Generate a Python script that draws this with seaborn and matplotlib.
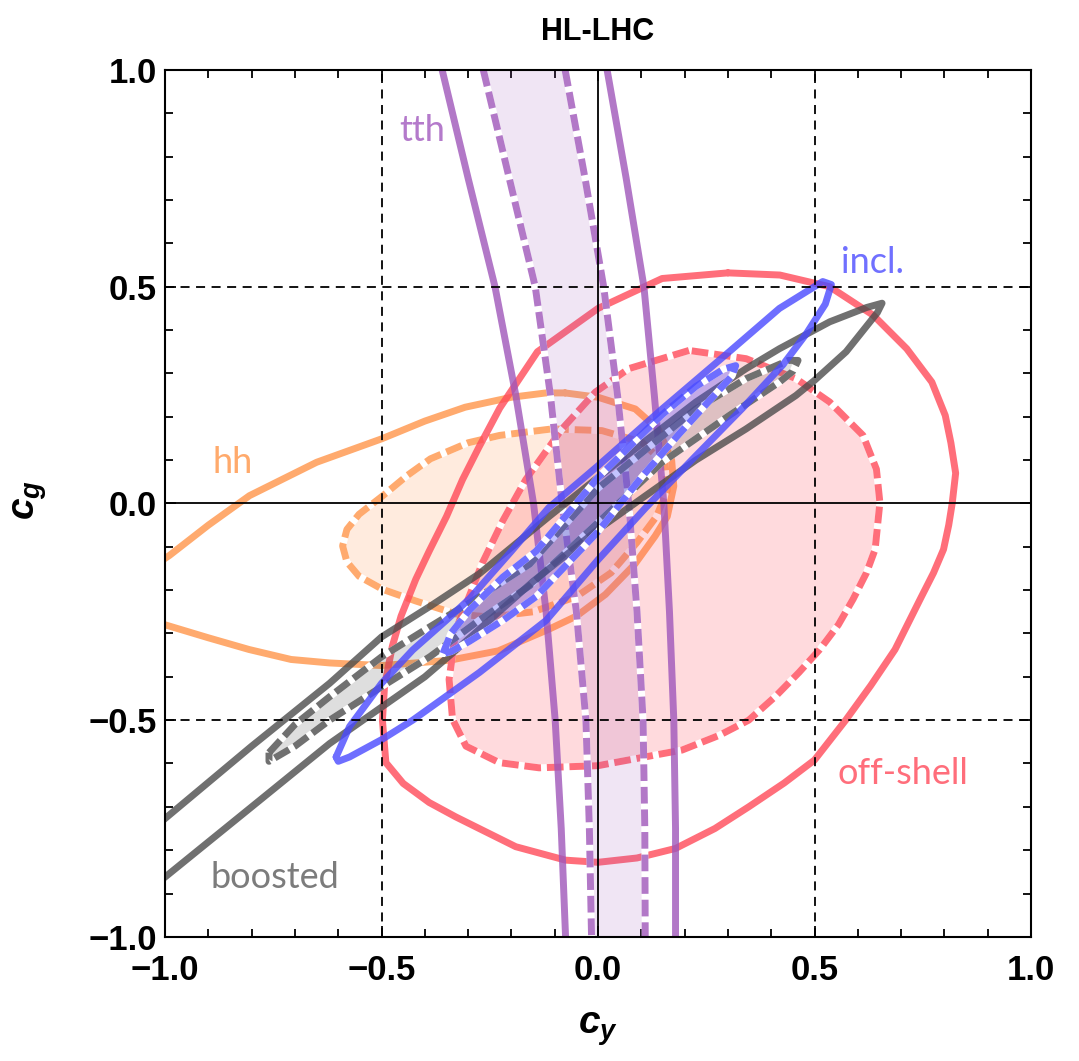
import numpy as np
import pandas as pd
import matplotlib
matplotlib.use("Agg")
import matplotlib.pyplot as plt
from matplotlib.ticker import MultipleLocator
import seaborn as sns

# ---------------- data (c_y, c_g) ----------------
TITLE = "HL-LHC"
X_LABEL = r"$c_y$"
Y_LABEL = r"$c_g$"
MAJOR_TICKS = [-1.0, -0.5, 0.0, 0.5, 1.0]
TICK_LABELS = ["\u22121.0", "\u22120.5", "0.0", "0.5", "1.0"]

# off-shell (red)
OFFSHELL_SOLID = [
    (0.30, 0.532), (0.148, 0.519), (0.0, 0.45), (-0.14, 0.35), (-0.227, 0.22),
    (-0.275, 0.13), (-0.313, 0.055), (-0.35, -0.03), (-0.39, -0.11), (-0.421, -0.175),
    (-0.455, -0.26), (-0.475, -0.329), (-0.493, -0.42), (-0.498, -0.5), (-0.49, -0.598),
    (-0.45, -0.646), (-0.39, -0.69), (-0.329, -0.723), (-0.19, -0.792), (-0.075, -0.823),
    (0.0, -0.828), (0.09, -0.818), (0.179, -0.796), (0.27, -0.75), (0.348, -0.70),
    (0.43, -0.645), (0.5, -0.592), (0.572, -0.5), (0.63, -0.42), (0.686, -0.337),
    (0.744, -0.221), (0.775, -0.16), (0.798, -0.106), (0.81, -0.05), (0.818, 0.0),
    (0.826, 0.07), (0.815, 0.14), (0.802, 0.203), (0.771, 0.28), (0.713, 0.357),
    (0.636, 0.434), (0.535, 0.5), (0.42, 0.527),
]
OFFSHELL_DASHED = [
    (0.21, 0.353), (0.071, 0.311), (-0.006, 0.257), (-0.083, 0.172), (-0.167, 0.055),
    (-0.22, -0.04), (-0.267, -0.137), (-0.328, -0.291), (-0.344, -0.406), (-0.336, -0.498),
    (-0.305, -0.56), (-0.228, -0.598), (-0.136, -0.61), (0.0, -0.605), (0.194, -0.569),
    (0.28, -0.535), (0.348, -0.5), (0.41, -0.445), (0.464, -0.39), (0.512, -0.337),
    (0.555, -0.28), (0.589, -0.221), (0.62, -0.16), (0.64, -0.106), (0.651, 0.002),
    (0.643, 0.079), (0.612, 0.157), (0.535, 0.234), (0.457, 0.288), (0.342, 0.334),
]

# hh (orange)
HH_SOLID = [
    (-0.076, 0.255), (0.0, 0.245), (0.086, 0.218), (0.14, 0.17), (0.17, 0.10),
    (0.175, 0.04), (0.16, -0.03), (0.132, -0.075), (0.085, -0.14), (0.017, -0.21),
    (-0.05, -0.26), (-0.113, -0.29), (-0.23, -0.34), (-0.344, -0.362), (-0.5, -0.374),
    (-0.62, -0.368), (-0.709, -0.36), (-0.806, -0.337), (-0.9, -0.31), (-1.0, -0.28),
    (-1.06, -0.255), (-1.08, -0.21), (-1.05, -0.16), (-0.99, -0.12), (-0.9, -0.05),
    (-0.805, 0.018), (-0.65, 0.095), (-0.5, 0.149), (-0.4, 0.19), (-0.307, 0.222),
    (-0.2, 0.245), (-0.12, 0.255),
]
HH_DASHED = [
    (-0.106, 0.172), (0.009, 0.168), (0.102, 0.141), (0.155, 0.09), (0.16, 0.03),
    (0.135, -0.03), (0.09, -0.09), (0.03, -0.16), (-0.05, -0.215), (-0.15, -0.25),
    (-0.25, -0.262), (-0.328, -0.255), (-0.421, -0.225), (-0.498, -0.198), (-0.552, -0.168),
    (-0.58, -0.135), (-0.59, -0.098), (-0.58, -0.06), (-0.552, -0.025), (-0.498, 0.017),
    (-0.44, 0.065), (-0.387, 0.103), (-0.3, 0.14), (-0.227, 0.157),
]

# boosted (gray)
BOOSTED_SOLID = [
    (-1.05, -0.77), (-1.0, -0.727), (-0.8, -0.56), (-0.62, -0.415), (-0.5, -0.308),
    (-0.389, -0.238), (-0.274, -0.162), (-0.113, -0.03), (0.0, 0.06), (0.226, 0.234),
    (0.342, 0.311), (0.419, 0.357), (0.535, 0.419), (0.62, 0.452), (0.656, 0.462),
    (0.645, 0.44), (0.573, 0.35), (0.5, 0.284), (0.457, 0.249), (0.342, 0.172),
    (0.226, 0.1), (0.11, 0.018), (0.0, -0.06), (-0.15, -0.18), (-0.33, -0.34),
    (-0.4, -0.40), (-0.5, -0.47), (-0.62, -0.554), (-0.8, -0.70), (-1.0, -0.862),
    (-1.05, -0.9),
]
BOOSTED_DASHED = [
    (-0.76, -0.575), (-0.7, -0.51), (-0.62, -0.446), (-0.5, -0.354), (-0.389, -0.285),
    (-0.274, -0.215), (-0.158, -0.14), (0.0, 0.035), (0.226, 0.218), (0.342, 0.288),
    (0.44, 0.33), (0.462, 0.33), (0.45, 0.305), (0.419, 0.28), (0.303, 0.203),
    (0.148, 0.095), (0.0, -0.044), (-0.158, -0.19), (-0.274, -0.269), (-0.389, -0.354),
    (-0.5, -0.423), (-0.62, -0.5), (-0.7, -0.56), (-0.76, -0.595),
]

# incl. (blue)
INCL_SOLID = [
    (-0.605, -0.585), (-0.574, -0.515), (-0.5, -0.415), (-0.428, -0.338), (-0.351, -0.27),
    (-0.297, -0.22), (-0.2, -0.11), (-0.114, -0.01), (0.0, 0.087), (0.148, 0.218),
    (0.303, 0.35), (0.419, 0.45), (0.519, 0.512), (0.539, 0.505), (0.525, 0.46),
    (0.48, 0.39), (0.427, 0.32), (0.334, 0.22), (0.226, 0.11), (0.11, -0.01),
    (0.0, -0.13), (-0.12, -0.27), (-0.197, -0.33), (-0.274, -0.39), (-0.351, -0.445),
    (-0.428, -0.5), (-0.5, -0.545), (-0.574, -0.585), (-0.6, -0.595),
]
INCL_DASHED = [
    (-0.358, -0.346), (-0.34, -0.30), (-0.297, -0.246), (-0.22, -0.17), (-0.143, -0.11),
    (0.0, 0.06), (0.148, 0.205), (0.226, 0.27), (0.29, 0.31), (0.318, 0.318),
    (0.31, 0.295), (0.26, 0.24), (0.187, 0.16), (0.10, 0.06), (0.0, -0.065),
    (-0.143, -0.215), (-0.22, -0.27), (-0.297, -0.318), (-0.34, -0.342),
]

# tth (purple): open bands, c_y read at fixed c_g levels
TTH_CG = [1.0, 0.75, 0.5, 0.25, 0.0, -0.25, -0.5, -0.75, -1.0]
TTH_SOLID_LEFT = [-0.36, -0.30, -0.238, -0.19, -0.149, -0.12, -0.099, -0.085, -0.075]
TTH_DASHED_LEFT = [-0.265, -0.205, -0.145, -0.11, -0.083, -0.05, -0.028, -0.02, -0.015]
TTH_DASHED_RIGHT = [-0.076, -0.03, 0.013, 0.045, 0.071, 0.09, 0.104, 0.108, 0.109]
TTH_SOLID_RIGHT = [0.021, 0.065, 0.106, 0.13, 0.152, 0.165, 0.175, 0.179, 0.179]

# region labels
LABELS = ["tth", "incl.", "hh", "boosted", "off-shell"]
LABEL_X = [-0.406, 0.633, -0.843, -0.746, 0.704]
LABEL_Y = [0.861, 0.556, 0.095, -0.862, -0.623]

# ---------------- styling ----------------
RED = "#FF4A59"
PURPLE = "#9F56BA"
ORANGE = "#FF954A"
BLUE = "#4A4AFF"
GRAY = "#4C4C4C"
LABEL_COLORS = ["#B47ACB", "#7070FF", "#FFAA6C", "#7C7C7C", "#FF6E7B"]

sns.set_theme(style="ticks")
plt.rcParams["font.family"] = ["Liberation Sans", "DejaVu Sans"]
plt.rcParams["mathtext.fontset"] = "custom"
plt.rcParams["mathtext.it"] = "Liberation Sans:italic:bold"
plt.rcParams["mathtext.rm"] = "Liberation Sans:bold"
for key in ("text.color", "axes.labelcolor", "xtick.color", "ytick.color",
            "axes.edgecolor"):
    plt.rcParams[key] = "black"

fig = plt.figure(figsize=(10.79, 10.61), dpi=100)
ax = fig.add_axes([0.153, 0.117, 0.8025, 0.817])

LW = 5.0
DASH = (0, (2.4, 0.85))
LINE_ALPHA = 0.8


def closed_frame(points):
    pts = list(points) + [points[0]]
    return pd.DataFrame(pts, columns=["cy", "cg"])


def draw_contour(points, color, dashed, z, fill_alpha=None):
    df = closed_frame(points)
    if fill_alpha is not None:
        ax.fill(df["cy"], df["cg"], color=color, alpha=fill_alpha, lw=0, zorder=z)
    if dashed:
        sns.lineplot(data=df, x="cy", y="cg", sort=False, estimator=None, ax=ax,
                     color="white", lw=LW, zorder=z + 0.5)
        sns.lineplot(data=df, x="cy", y="cg", sort=False, estimator=None, ax=ax,
                     color=color, lw=LW, alpha=LINE_ALPHA, linestyle=DASH,
                     zorder=z + 0.6)
    else:
        sns.lineplot(data=df, x="cy", y="cg", sort=False, estimator=None, ax=ax,
                     color=color, lw=LW, alpha=LINE_ALPHA, zorder=z + 0.7)


# hh
draw_contour(HH_DASHED, ORANGE, True, 1.0, fill_alpha=0.18)
draw_contour(HH_SOLID, ORANGE, False, 1.0)
# off-shell
draw_contour(OFFSHELL_DASHED, RED, True, 2.0, fill_alpha=0.2)
draw_contour(OFFSHELL_SOLID, RED, False, 2.0)
# tth
ax.fill_betweenx(TTH_CG, TTH_DASHED_LEFT, TTH_DASHED_RIGHT, color=PURPLE, alpha=0.15,
                 lw=0, zorder=3.0)
for xs in (TTH_DASHED_LEFT, TTH_DASHED_RIGHT):
    sns.lineplot(x=xs, y=TTH_CG, sort=False, estimator=None, ax=ax, color="white",
                 lw=LW, zorder=3.5)
    sns.lineplot(x=xs, y=TTH_CG, sort=False, estimator=None, ax=ax, color=PURPLE,
                 lw=LW, alpha=LINE_ALPHA, linestyle=DASH, zorder=3.6)
for xs in (TTH_SOLID_LEFT, TTH_SOLID_RIGHT):
    sns.lineplot(x=xs, y=TTH_CG, sort=False, estimator=None, ax=ax, color=PURPLE,
                 lw=LW, alpha=LINE_ALPHA, zorder=3.7)
# boosted
draw_contour(BOOSTED_DASHED, GRAY, True, 4.0, fill_alpha=0.18)
draw_contour(BOOSTED_SOLID, GRAY, False, 4.0)
# incl.
draw_contour(INCL_DASHED, BLUE, True, 5.0, fill_alpha=0.33)
draw_contour(INCL_SOLID, BLUE, False, 5.0)

# reference lines
for v in (-0.5, 0.5):
    ax.axhline(v, color="black", lw=1.3, linestyle=(0, (5, 3.6)), zorder=8)
    ax.axvline(v, color="black", lw=1.3, linestyle=(0, (5, 3.6)), zorder=8)
ax.axhline(0.0, color="black", lw=1.3, zorder=8)
ax.axvline(0.0, color="black", lw=1.3, zorder=8)

# labels on regions
for t, x, y, c in zip(LABELS, LABEL_X, LABEL_Y, LABEL_COLORS):
    ax.text(x, y, t, color=c, fontsize=26, ha="center", va="center",
            family=["Lato", "DejaVu Sans"], zorder=9)

ax.set_xlim(-1, 1)
ax.set_ylim(-1, 1)
ax.set_xticks(MAJOR_TICKS)
ax.set_yticks(MAJOR_TICKS)
ax.set_xticklabels(TICK_LABELS)
ax.set_yticklabels(TICK_LABELS)
ax.xaxis.set_minor_locator(MultipleLocator(0.1))
ax.yaxis.set_minor_locator(MultipleLocator(0.1))
ax.tick_params(which="both", direction="in", top=True, right=True, width=1.3,
               color="black", labelcolor="black")
ax.tick_params(which="major", length=8, labelsize=25)
ax.tick_params(which="minor", length=6)
ax.tick_params(axis="x", which="major", pad=12)
ax.tick_params(axis="y", which="major", pad=6)
for lab in ax.get_xticklabels() + ax.get_yticklabels():
    lab.set_fontweight("bold")
for sp in ax.spines.values():
    sp.set_linewidth(1.5)
    sp.set_color("black")
    sp.set_zorder(10)

ax.set_xlabel(X_LABEL, fontsize=28)
ax.set_ylabel(Y_LABEL, fontsize=28, rotation=90)
ax.xaxis.set_label_coords(0.5, -0.107)
ax.xaxis.label.set_va("center")
ax.yaxis.set_label_coords(-0.156, 0.504)
ax.yaxis.label.set_va("center")

ax.text(0.5, 1.044, TITLE, transform=ax.transAxes, ha="center", va="center",
        fontsize=22, fontweight="bold", color="black")

fig.savefig("out.png", dpi=100)
